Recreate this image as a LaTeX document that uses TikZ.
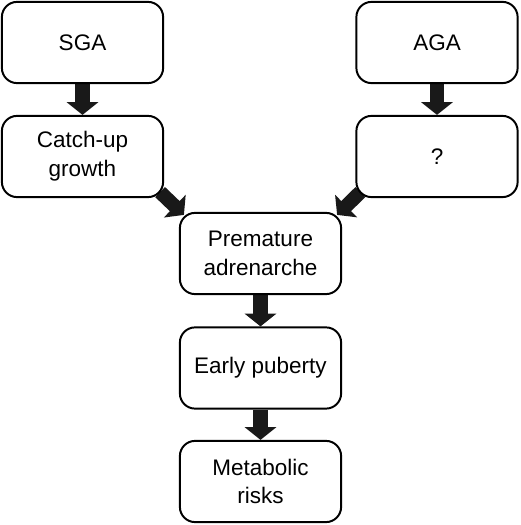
\documentclass[tikz,border=0pt]{standalone}
\usepackage{fontspec}
\setmainfont{Liberation Sans}
\usetikzlibrary{arrows.meta,backgrounds}

\tikzset{
  stage/.style={draw, line width=1.4pt, rounded corners=0.38cm, fill=white,
    minimum width=4.03cm, minimum height=2.03cm, align=center, inner sep=2pt,
    font=\fontsize{16}{20.5}\selectfont},
  fat/.style={line width=10pt, draw=black!90, -{Triangle[width=22pt,length=9pt]}}
}

\begin{document}
\begin{tikzpicture}[x=0.025cm,y=0.025cm]
            \useasboundingbox (0,0) rectangle (520,525);
            \node[stage] (sga) at (82.5,482.5) {SGA};
            \node[stage] (aga) at (437,482.5) {AGA};
            \node[stage] (catch) at (82.5,368.5) {Catch-up\\growth};
            \node[stage] (unknown) at (437,368.5) {?};
            \node[stage] (adren) at (260.5,271.5) {Premature\\adrenarche};
            \node[stage] (early) at (260.5,157) {Early puberty};
            \node[stage] (risks) at (260.5,43.5) {Metabolic\\risks};
            \begin{scope}[on background layer]
            \draw[fat] (sga) -- (catch);
            \draw[fat] (aga) -- (unknown);
            \draw[fat] ([xshift=-0.1cm,yshift=0.15cm]catch.south east) -- ([xshift=0.125cm,yshift=-0.075cm]adren.north west);
            \draw[fat] ([xshift=0.125cm,yshift=0.15cm]unknown.south west) -- ([xshift=-0.125cm,yshift=-0.075cm]adren.north east);
            \draw[fat] (adren) -- (early);
            \draw[fat] (early) -- (risks);
            \end{scope}
        \end{tikzpicture}
\end{document}
